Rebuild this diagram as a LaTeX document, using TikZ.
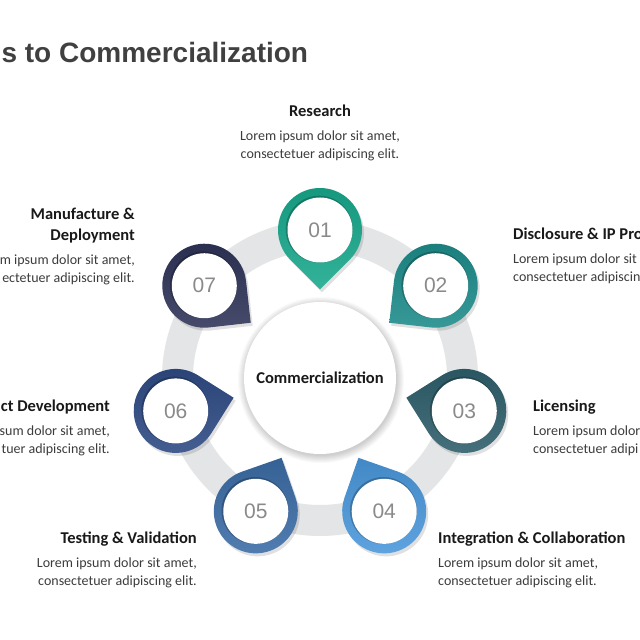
\documentclass[tikz,border=0pt]{standalone}
\usepackage{fontspec}
\setmainfont{Carlito}
\newfontfamily\arialfont{Liberation Sans}
\usepackage{tikz}
\usetikzlibrary{positioning}
\definecolor{ringgray}{HTML}{E4E5E6}
\definecolor{titlegray}{HTML}{404040}
\definecolor{numgray}{HTML}{8A8A8A}
\definecolor{bodygray}{HTML}{3C3C3C}
\definecolor{stepA}{HTML}{17A88B}
\definecolor{stepB}{HTML}{1D8C8A}
\definecolor{stepC}{HTML}{2D5E6B}
\definecolor{stepD}{HTML}{4A98DC}
\definecolor{stepE}{HTML}{3B6CA6}
\definecolor{stepF}{HTML}{2D4A84}
\definecolor{stepG}{HTML}{2E3358}
\tikzset{
  head/.style={font=\bfseries\fontsize{16.5}{21}\selectfont,inner sep=0pt,text=black!90},
  body/.style={font=\fontsize{14}{18.5}\selectfont,inner sep=0pt,text=bodygray},
  num/.style={font=\arialfont\fontsize{21}{21}\selectfont,inner sep=0pt,text=numgray},
  title/.style={font=\arialfont\bfseries\fontsize{28}{28}\selectfont,inner sep=0pt,text=titlegray}
}

\begin{document}
\begin{tikzpicture}[x=1pt,y=1pt]
  \useasboundingbox (0,0) rectangle (640,640);
  \fill[white] (0,0) rectangle (640,640);
  \coordinate (c) at (320,262);

  % ring and centre
  \fill[ringgray,even odd rule] (c) circle (158) (c) circle (127);
  \foreach \r in {0,...,7}
    \fill[black,opacity=0.022] ([shift={(1,-2)}]c) circle (76+\r);
  \fill[white] (c) circle (76);
  \node[head] (core) at (c) {Commercialization};

  % steps
  \foreach \i/\col in {1/stepA,2/stepB,3/stepC,4/stepD,5/stepE,6/stepF,7/stepG} {
    \pgfmathsetmacro\ang{90-(\i-1)*360/7}
    \begin{scope}[shift={(c)},shift={(\ang:148)}]
      \fill[black,opacity=0.12,shift={(2,-3)},rotate=\ang+180]
        (45:42) arc[start angle=45,end angle=315,radius=42] -- (0:59.4) -- cycle;
      \shade[top color=\col!90!black,bottom color=\col!88!white,rotate=\ang+180]
        (45:42) arc[start angle=45,end angle=315,radius=42] -- (0:59.4) -- cycle;
      \fill[black,opacity=0.22] (-0.8,0.8) circle (33.5);
      \fill[white] (0,0) circle (32.5);
      \node[num] (n\i) at (0,0) {0\i};
    \end{scope}
  }

  % labels
  \node[title,anchor=base west] (title) at (1.4,577) {s to Commercialization};

  \node[head,anchor=base] (h1) at (320,523.5) {Research};
  \node[body,align=center,below=14pt of h1.base] (b1)
    {Lorem ipsum dolor sit amet,\\consectetuer adipiscing elit.};

  \node[head,anchor=base west] (h2) at (513,400.5) {Disclosure \& IP Pro};
  \node[body,align=left,below=14pt of h2.base west,anchor=north west] (b2)
    {Lorem ipsum dolor sit\\consectetuer adipiscin};

  \node[head,anchor=base west] (h3) at (533,228.5) {Licensing};
  \node[body,align=left,below=14pt of h3.base west,anchor=north west] (b3)
    {Lorem ipsum dolor\\consectetuer adipi};

  \node[head,anchor=base west] (h4) at (438,96.5) {Integration \& Collaboration};
  \node[body,align=left,below=14pt of h4.base west,anchor=north west] (b4)
    {Lorem ipsum dolor sit amet,\\consectetuer adipiscing elit.};

  \node[head,anchor=base east] (h5) at (197,96.5) {Testing \& Validation};
  \node[body,align=right,below=14pt of h5.base east,anchor=north east] (b5)
    {Lorem ipsum dolor sit amet,\\consectetuer adipiscing elit.};

  \node[head,anchor=base east] (h6) at (110,228.5) {ct Development};
  \node[body,align=right,below=14pt of h6.base east,anchor=north east] (b6)
    {sum dolor sit amet,\\tuer adipiscing elit.};

  \node[head,align=right,anchor=south east] (h7) at (135,396.5) {Manufacture \&\\Deployment};
  \node[body,align=right,below=11pt of h7.south east,anchor=north east] (b7)
    {m ipsum dolor sit amet,\\ectetuer adipiscing elit.};
\end{tikzpicture}
\end{document}
